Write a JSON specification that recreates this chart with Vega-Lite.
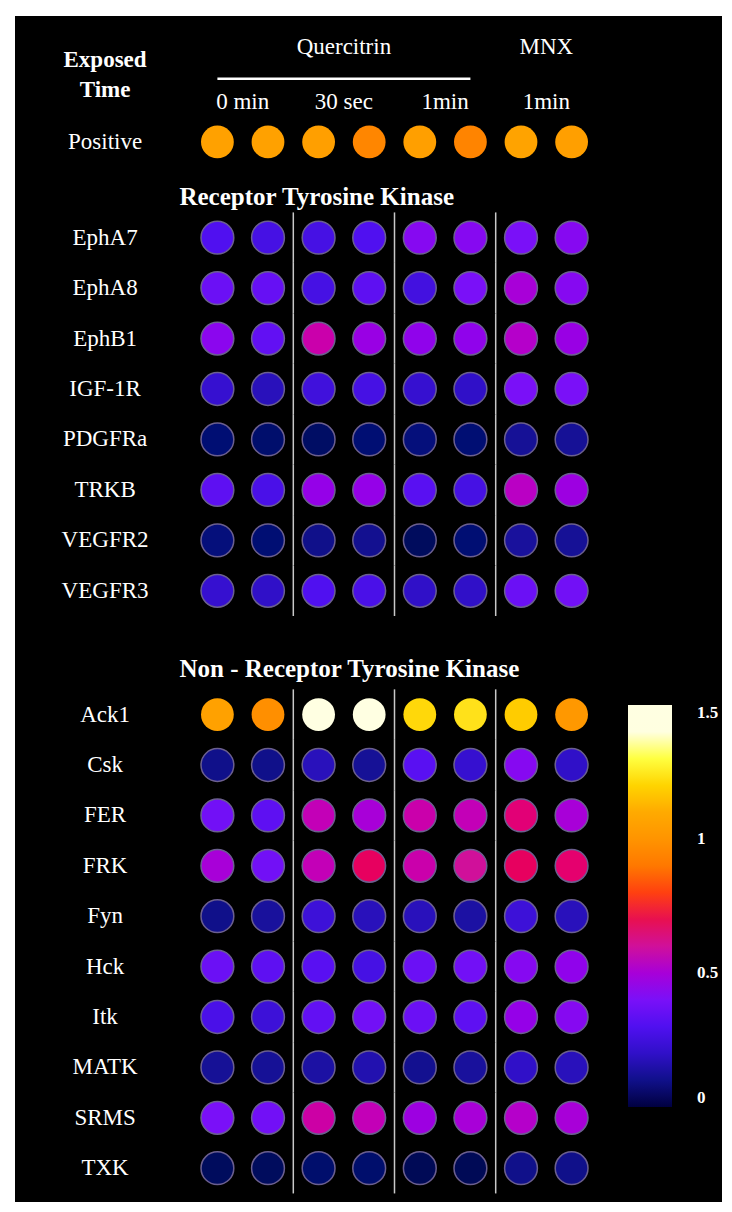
{
  "$schema": "https://vega.github.io/schema/vega-lite/v6.json",
  "background": "white",
  "padding": {"left": 15, "top": 16, "right": 10, "bottom": 10},
  "spacing": 0,
  "bounds": "flush",
  "config": {
    "view": {"fill": "black", "stroke": null},
    "axis": {"disable": true},
    "text": {"font": "Liberation Serif", "fontSize": 23, "color": "white", "baseline": "middle"},
    "concat": {"spacing": 0}
  },
  "datasets": {
    "dots": [
      {"section": "Positive", "protein": "Positive", "Q0a": 1.06, "Q0b": 1.06, "Q30a": 1.05, "Q30b": 0.95, "Q1a": 1.05, "Q1b": 0.94, "M1a": 1.07, "M1b": 1.05},
      {"section": "RTK", "protein": "EphA7", "Q0a": 0.3, "Q0b": 0.27, "Q30a": 0.27, "Q30b": 0.3, "Q1a": 0.42, "Q1b": 0.42, "M1a": 0.4, "M1b": 0.42},
      {"section": "RTK", "protein": "EphA8", "Q0a": 0.36, "Q0b": 0.35, "Q30a": 0.27, "Q30b": 0.33, "Q1a": 0.26, "Q1b": 0.4, "M1a": 0.5, "M1b": 0.42},
      {"section": "RTK", "protein": "EphB1", "Q0a": 0.43, "Q0b": 0.34, "Q30a": 0.57, "Q30b": 0.46, "Q1a": 0.44, "Q1b": 0.44, "M1a": 0.52, "M1b": 0.46},
      {"section": "RTK", "protein": "IGF-1R", "Q0a": 0.22, "Q0b": 0.18, "Q30a": 0.25, "Q30b": 0.27, "Q1a": 0.22, "Q1b": 0.2, "M1a": 0.4, "M1b": 0.4},
      {"section": "RTK", "protein": "PDGFRa", "Q0a": 0.07, "Q0b": 0.06, "Q30a": 0.05, "Q30b": 0.07, "Q1a": 0.08, "Q1b": 0.07, "M1a": 0.12, "M1b": 0.12},
      {"section": "RTK", "protein": "TRKB", "Q0a": 0.33, "Q0b": 0.28, "Q30a": 0.45, "Q30b": 0.45, "Q1a": 0.32, "Q1b": 0.27, "M1a": 0.53, "M1b": 0.47},
      {"section": "RTK", "protein": "VEGFR2", "Q0a": 0.08, "Q0b": 0.07, "Q30a": 0.1, "Q30b": 0.11, "Q1a": 0.04, "Q1b": 0.07, "M1a": 0.13, "M1b": 0.12},
      {"section": "RTK", "protein": "VEGFR3", "Q0a": 0.22, "Q0b": 0.2, "Q30a": 0.3, "Q30b": 0.28, "Q1a": 0.2, "Q1b": 0.2, "M1a": 0.36, "M1b": 0.38},
      {"section": "NRTK", "protein": "Ack1", "Q0a": 1.06, "Q0b": 0.98, "Q30a": 1.5, "Q30b": 1.5, "Q1a": 1.21, "Q1b": 1.23, "M1a": 1.18, "M1b": 1.02},
      {"section": "NRTK", "protein": "Csk", "Q0a": 0.1, "Q0b": 0.1, "Q30a": 0.18, "Q30b": 0.12, "Q1a": 0.32, "Q1b": 0.22, "M1a": 0.42, "M1b": 0.2},
      {"section": "NRTK", "protein": "FER", "Q0a": 0.38, "Q0b": 0.33, "Q30a": 0.55, "Q30b": 0.5, "Q1a": 0.57, "Q1b": 0.55, "M1a": 0.65, "M1b": 0.5},
      {"section": "NRTK", "protein": "FRK", "Q0a": 0.5, "Q0b": 0.38, "Q30a": 0.55, "Q30b": 0.68, "Q1a": 0.57, "Q1b": 0.6, "M1a": 0.68, "M1b": 0.66},
      {"section": "NRTK", "protein": "Fyn", "Q0a": 0.1, "Q0b": 0.13, "Q30a": 0.24, "Q30b": 0.18, "Q1a": 0.18, "Q1b": 0.14, "M1a": 0.24, "M1b": 0.18},
      {"section": "NRTK", "protein": "Hck", "Q0a": 0.36, "Q0b": 0.33, "Q30a": 0.32, "Q30b": 0.27, "Q1a": 0.36, "Q1b": 0.38, "M1a": 0.42, "M1b": 0.44},
      {"section": "NRTK", "protein": "Itk", "Q0a": 0.28, "Q0b": 0.24, "Q30a": 0.34, "Q30b": 0.38, "Q1a": 0.36, "Q1b": 0.33, "M1a": 0.45, "M1b": 0.42},
      {"section": "NRTK", "protein": "MATK", "Q0a": 0.12, "Q0b": 0.12, "Q30a": 0.14, "Q30b": 0.16, "Q1a": 0.11, "Q1b": 0.13, "M1a": 0.2, "M1b": 0.18},
      {"section": "NRTK", "protein": "SRMS", "Q0a": 0.4, "Q0b": 0.38, "Q30a": 0.58, "Q30b": 0.55, "Q1a": 0.47, "Q1b": 0.5, "M1a": 0.52, "M1b": 0.5},
      {"section": "NRTK", "protein": "TXK", "Q0a": 0.04, "Q0b": 0.04, "Q30a": 0.06, "Q30b": 0.06, "Q1a": 0.03, "Q1b": 0.03, "M1a": 0.1, "M1b": 0.1}
    ],
    "headers": [
      {"text": "Quercitrin", "col": "Q30a", "level": "grp"},
      {"text": "MNX", "col": "M1a", "level": "grp"},
      {"text": "0 min", "col": "Q0a", "level": "time"},
      {"text": "30 sec", "col": "Q30a", "level": "time"},
      {"text": "1min", "col": "Q1a", "level": "time"},
      {"text": "1min", "col": "M1a", "level": "time"}
    ]
  },
  "vconcat": [
    {
      "width": 707,
      "height": 146,
      "data": {"name": "dots"},
      "transform": [{"filter": "datum.section === 'Positive'"}],
      "layer": [
        {
          "transform": [{"fold": ["Q0a", "Q0b", "Q30a", "Q30b", "Q1a", "Q1b", "M1a", "M1b"], "as": ["sample", "value"]}],
          "mark": {"type": "circle", "size": 1075, "opacity": 1, "strokeWidth": 1.5},
          "encoding": {
            "x": {"field": "sample", "type": "nominal", "scale": {"type": "band", "domain": ["label", "sp", "Q0a", "Q0b", "Q30a", "Q30b", "Q1a", "Q1b", "M1a", "M1b"], "range": [75.9, 581.9], "paddingInner": 0, "paddingOuter": 0}},
            "y": {"field": "protein", "type": "nominal", "scale": {"type": "band", "domain": ["grp", "line", "time", "Positive"], "range": [15.2, 141.8], "paddingInner": 0, "paddingOuter": 0}},
            "stroke": {"condition": {"test": "datum.value > 0.85", "value": "transparent"}, "value": "#6b5f8f"},
            "color": {
              "field": "value", "type": "quantitative",
              "scale": {"type": "linear", "domain": [0, 0.1, 0.2, 0.3, 0.4, 0.5, 0.6, 0.7, 0.8, 0.9, 1, 1.1, 1.2, 1.3, 1.4, 1.5], "range": ["#000040", "#10108a", "#3010c8", "#5010f0", "#7a10f8", "#a800d8", "#d0109a", "#e81050", "#ff4010", "#ff7800", "#ff9400", "#ffaa00", "#ffd400", "#ffff40", "#ffffe0", "#ffffff"], "clamp": true},
              "legend": {"orient": "none", "legendX": 613, "legendY": 689, "direction": "vertical", "gradientLength": 402, "gradientThickness": 44, "title": null, "values": [0, 0.5, 1, 1.5], "format": "~g", "labelColor": "white", "labelFont": "Liberation Serif", "labelFontWeight": "bold", "labelFontSize": 17, "labelAlign": "center", "labelBaseline": "middle", "labelOffset": 25, "gradientStrokeWidth": 0, "labelOverlap": false}
            }
          }
        },
        {
          "mark": {"type": "text"},
          "encoding": {
            "x": {"datum": "label", "bandPosition": 0.28, "scale": {"type": "band", "domain": ["label", "sp", "Q0a", "Q0b", "Q30a", "Q30b", "Q1a", "Q1b", "M1a", "M1b"], "range": [75.9, 581.9], "paddingInner": 0, "paddingOuter": 0}},
            "y": {"field": "protein", "type": "nominal", "scale": {"type": "band", "domain": ["grp", "line", "time", "Positive"], "range": [15.2, 141.8], "paddingInner": 0, "paddingOuter": 0}},
            "text": {"field": "protein", "type": "nominal"}
          }
        },
        {
          "data": {"values": [{}]},
          "mark": {"type": "text", "text": ["Exposed", "Time"], "fontWeight": "bold", "lineHeight": 30, "dy": -19},
          "encoding": {
            "x": {"datum": "label", "bandPosition": 0.28, "scale": {"type": "band", "domain": ["label", "sp", "Q0a", "Q0b", "Q30a", "Q30b", "Q1a", "Q1b", "M1a", "M1b"], "range": [75.9, 581.9], "paddingInner": 0, "paddingOuter": 0}},
            "y": {"datum": "line", "scale": {"type": "band", "domain": ["grp", "line", "time", "Positive"], "range": [15.2, 141.8], "paddingInner": 0, "paddingOuter": 0}}
          }
        },
        {
          "data": {"name": "headers"},
          "transform": [{"filter": "datum.level === 'grp'"}],
          "mark": {"type": "text"},
          "encoding": {
            "x": {"field": "col", "type": "nominal", "bandPosition": 1, "scale": {"type": "band", "domain": ["label", "sp", "Q0a", "Q0b", "Q30a", "Q30b", "Q1a", "Q1b", "M1a", "M1b"], "range": [75.9, 581.9], "paddingInner": 0, "paddingOuter": 0}},
            "y": {"field": "level", "type": "nominal", "scale": {"type": "band", "domain": ["grp", "line", "time", "Positive"], "range": [15.2, 141.8], "paddingInner": 0, "paddingOuter": 0}},
            "text": {"field": "text", "type": "nominal"}
          }
        },
        {
          "data": {"name": "headers"},
          "transform": [{"filter": "datum.level === 'time'"}],
          "mark": {"type": "text", "dy": -8},
          "encoding": {
            "x": {"field": "col", "type": "nominal", "bandPosition": 1, "scale": {"type": "band", "domain": ["label", "sp", "Q0a", "Q0b", "Q30a", "Q30b", "Q1a", "Q1b", "M1a", "M1b"], "range": [75.9, 581.9], "paddingInner": 0, "paddingOuter": 0}},
            "y": {"field": "level", "type": "nominal", "scale": {"type": "band", "domain": ["grp", "line", "time", "Positive"], "range": [15.2, 141.8], "paddingInner": 0, "paddingOuter": 0}},
            "text": {"field": "text", "type": "nominal"}
          }
        },
        {
          "data": {"values": [{}]},
          "mark": {"type": "rule", "color": "white", "strokeWidth": 2.5},
          "encoding": {
            "x": {"datum": "Q0a", "scale": {"type": "band", "domain": ["label", "sp", "Q0a", "Q0b", "Q30a", "Q30b", "Q1a", "Q1b", "M1a", "M1b"], "range": [75.9, 581.9], "paddingInner": 0, "paddingOuter": 0}},
            "x2": {"datum": "Q1b"},
            "y": {"datum": "line", "scale": {"type": "band", "domain": ["grp", "line", "time", "Positive"], "range": [15.2, 141.8], "paddingInner": 0, "paddingOuter": 0}}
          }
        }
      ]
    },
    {
      "width": 707,
      "height": 454,
      "data": {"name": "dots"},
      "transform": [{"filter": "datum.section === 'RTK'"}],
      "layer": [
        {
          "transform": [{"fold": ["Q30a", "Q1a", "M1a"], "as": ["sample", "value"]}],
          "mark": {"type": "tick", "orient": "vertical", "size": 50.5, "thickness": 1.5, "color": "#c8c8c8", "opacity": 1},
          "encoding": {
            "x": {"field": "sample", "type": "nominal", "bandPosition": 0, "scale": {"type": "band", "domain": ["label", "sp", "Q0a", "Q0b", "Q30a", "Q30b", "Q1a", "Q1b", "M1a", "M1b"], "range": [75.9, 581.9], "paddingInner": 0, "paddingOuter": 0}},
            "y": {"field": "protein", "type": "nominal", "scale": {"type": "band", "domain": ["title", "EphA7", "EphA8", "EphB1", "IGF-1R", "PDGFRa", "TRKB", "VEGFR2", "VEGFR3"], "paddingInner": 0, "paddingOuter": 0}}
          }
        },
        {
          "transform": [{"fold": ["Q0a", "Q0b", "Q30a", "Q30b", "Q1a", "Q1b", "M1a", "M1b"], "as": ["sample", "value"]}],
          "mark": {"type": "circle", "size": 1075, "opacity": 1, "strokeWidth": 1.5},
          "encoding": {
            "x": {"field": "sample", "type": "nominal", "scale": {"type": "band", "domain": ["label", "sp", "Q0a", "Q0b", "Q30a", "Q30b", "Q1a", "Q1b", "M1a", "M1b"], "range": [75.9, 581.9], "paddingInner": 0, "paddingOuter": 0}},
            "y": {"field": "protein", "type": "nominal", "scale": {"type": "band", "domain": ["title", "EphA7", "EphA8", "EphB1", "IGF-1R", "PDGFRa", "TRKB", "VEGFR2", "VEGFR3"], "paddingInner": 0, "paddingOuter": 0}},
            "stroke": {"condition": {"test": "datum.value > 0.85", "value": "transparent"}, "value": "#6b5f8f"},
            "color": {
              "field": "value", "type": "quantitative",
              "scale": {"type": "linear", "domain": [0, 0.1, 0.2, 0.3, 0.4, 0.5, 0.6, 0.7, 0.8, 0.9, 1, 1.1, 1.2, 1.3, 1.4, 1.5], "range": ["#000040", "#10108a", "#3010c8", "#5010f0", "#7a10f8", "#a800d8", "#d0109a", "#e81050", "#ff4010", "#ff7800", "#ff9400", "#ffaa00", "#ffd400", "#ffff40", "#ffffe0", "#ffffff"], "clamp": true},
              "legend": {"orient": "none", "legendX": 613, "legendY": 689, "direction": "vertical", "gradientLength": 402, "gradientThickness": 44, "title": null, "values": [0, 0.5, 1, 1.5], "format": "~g", "labelColor": "white", "labelFont": "Liberation Serif", "labelFontWeight": "bold", "labelFontSize": 17, "labelAlign": "center", "labelBaseline": "middle", "labelOffset": 25, "gradientStrokeWidth": 0, "labelOverlap": false}
            }
          }
        },
        {
          "mark": {"type": "text"},
          "encoding": {
            "x": {"datum": "label", "bandPosition": 0.28, "scale": {"type": "band", "domain": ["label", "sp", "Q0a", "Q0b", "Q30a", "Q30b", "Q1a", "Q1b", "M1a", "M1b"], "range": [75.9, 581.9], "paddingInner": 0, "paddingOuter": 0}},
            "y": {"field": "protein", "type": "nominal", "scale": {"type": "band", "domain": ["title", "EphA7", "EphA8", "EphB1", "IGF-1R", "PDGFRa", "TRKB", "VEGFR2", "VEGFR3"], "paddingInner": 0, "paddingOuter": 0}},
            "text": {"field": "protein", "type": "nominal"}
          }
        },
        {
          "data": {"values": [{"t": "Receptor Tyrosine Kinase"}]},
          "mark": {"type": "text", "align": "left", "fontWeight": "bold", "fontSize": 25, "dy": 9.4},
          "encoding": {
            "x": {"datum": "sp", "bandPosition": 0.75, "scale": {"type": "band", "domain": ["label", "sp", "Q0a", "Q0b", "Q30a", "Q30b", "Q1a", "Q1b", "M1a", "M1b"], "range": [75.9, 581.9], "paddingInner": 0, "paddingOuter": 0}},
            "y": {"datum": "title", "scale": {"type": "band", "domain": ["title", "EphA7", "EphA8", "EphB1", "IGF-1R", "PDGFRa", "TRKB", "VEGFR2", "VEGFR3"], "paddingInner": 0, "paddingOuter": 0}},
            "text": {"field": "t", "type": "nominal"}
          }
        }
      ]
    },
    {
      "width": 707,
      "height": 586,
      "data": {"name": "dots"},
      "transform": [{"filter": "datum.section === 'NRTK'"}],
      "layer": [
        {
          "transform": [{"fold": ["Q30a", "Q1a", "M1a"], "as": ["sample", "value"]}],
          "mark": {"type": "tick", "orient": "vertical", "size": 50.5, "thickness": 1.5, "color": "#c8c8c8", "opacity": 1},
          "encoding": {
            "x": {"field": "sample", "type": "nominal", "bandPosition": 0, "scale": {"type": "band", "domain": ["label", "sp", "Q0a", "Q0b", "Q30a", "Q30b", "Q1a", "Q1b", "M1a", "M1b"], "range": [75.9, 581.9], "paddingInner": 0, "paddingOuter": 0}},
            "y": {"field": "protein", "type": "nominal", "scale": {"type": "band", "domain": ["title", "Ack1", "Csk", "FER", "FRK", "Fyn", "Hck", "Itk", "MATK", "SRMS", "TXK"], "range": [23, 577.4], "paddingInner": 0, "paddingOuter": 0}}
          }
        },
        {
          "transform": [{"fold": ["Q0a", "Q0b", "Q30a", "Q30b", "Q1a", "Q1b", "M1a", "M1b"], "as": ["sample", "value"]}],
          "mark": {"type": "circle", "size": 1075, "opacity": 1, "strokeWidth": 1.5},
          "encoding": {
            "x": {"field": "sample", "type": "nominal", "scale": {"type": "band", "domain": ["label", "sp", "Q0a", "Q0b", "Q30a", "Q30b", "Q1a", "Q1b", "M1a", "M1b"], "range": [75.9, 581.9], "paddingInner": 0, "paddingOuter": 0}},
            "y": {"field": "protein", "type": "nominal", "scale": {"type": "band", "domain": ["title", "Ack1", "Csk", "FER", "FRK", "Fyn", "Hck", "Itk", "MATK", "SRMS", "TXK"], "range": [23, 577.4], "paddingInner": 0, "paddingOuter": 0}},
            "stroke": {"condition": {"test": "datum.value > 0.85", "value": "transparent"}, "value": "#6b5f8f"},
            "color": {
              "field": "value", "type": "quantitative",
              "scale": {"type": "linear", "domain": [0, 0.1, 0.2, 0.3, 0.4, 0.5, 0.6, 0.7, 0.8, 0.9, 1, 1.1, 1.2, 1.3, 1.4, 1.5], "range": ["#000040", "#10108a", "#3010c8", "#5010f0", "#7a10f8", "#a800d8", "#d0109a", "#e81050", "#ff4010", "#ff7800", "#ff9400", "#ffaa00", "#ffd400", "#ffff40", "#ffffe0", "#ffffff"], "clamp": true},
              "legend": {"orient": "none", "legendX": 613, "legendY": 689, "direction": "vertical", "gradientLength": 402, "gradientThickness": 44, "title": null, "values": [0, 0.5, 1, 1.5], "format": "~g", "labelColor": "white", "labelFont": "Liberation Serif", "labelFontWeight": "bold", "labelFontSize": 17, "labelAlign": "center", "labelBaseline": "middle", "labelOffset": 25, "gradientStrokeWidth": 0, "labelOverlap": false}
            }
          }
        },
        {
          "mark": {"type": "text"},
          "encoding": {
            "x": {"datum": "label", "bandPosition": 0.28, "scale": {"type": "band", "domain": ["label", "sp", "Q0a", "Q0b", "Q30a", "Q30b", "Q1a", "Q1b", "M1a", "M1b"], "range": [75.9, 581.9], "paddingInner": 0, "paddingOuter": 0}},
            "y": {"field": "protein", "type": "nominal", "scale": {"type": "band", "domain": ["title", "Ack1", "Csk", "FER", "FRK", "Fyn", "Hck", "Itk", "MATK", "SRMS", "TXK"], "range": [23, 577.4], "paddingInner": 0, "paddingOuter": 0}},
            "text": {"field": "protein", "type": "nominal"}
          }
        },
        {
          "data": {"values": [{"t": "Non - Receptor Tyrosine Kinase"}]},
          "mark": {"type": "text", "align": "left", "fontWeight": "bold", "fontSize": 25, "dy": 5},
          "encoding": {
            "x": {"datum": "sp", "bandPosition": 0.75, "scale": {"type": "band", "domain": ["label", "sp", "Q0a", "Q0b", "Q30a", "Q30b", "Q1a", "Q1b", "M1a", "M1b"], "range": [75.9, 581.9], "paddingInner": 0, "paddingOuter": 0}},
            "y": {"datum": "title", "scale": {"type": "band", "domain": ["title", "Ack1", "Csk", "FER", "FRK", "Fyn", "Hck", "Itk", "MATK", "SRMS", "TXK"], "range": [23, 577.4], "paddingInner": 0, "paddingOuter": 0}},
            "text": {"field": "t", "type": "nominal"}
          }
        }
      ]
    }
  ]
}
